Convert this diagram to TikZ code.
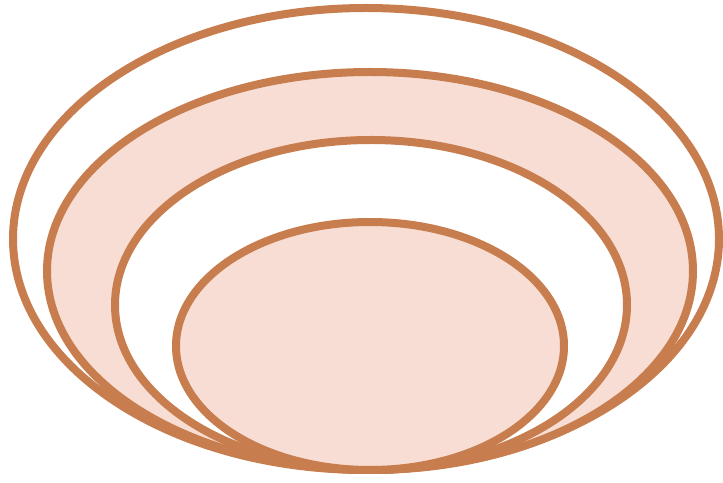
\documentclass[tikz,border=0pt]{standalone}
\usepackage{tikz}

\definecolor{ringline}{HTML}{C87D4E}
\definecolor{ringfill}{HTML}{F7DDD3}

\begin{document}
\begin{tikzpicture}[
    x=1pt, y=1pt,
    ring/.style={draw=ringline, line width=8pt},
    filled/.style={ring, fill=ringfill},
    hollow/.style={ring, fill=white}
]
\useasboundingbox (0,0) rectangle (723,482);

% Rings, outermost first
\draw[hollow] (366,243) ellipse [x radius=353, y radius=231];
\draw[filled] (370,211) ellipse [x radius=323, y radius=199];
\draw[hollow] (371,177) ellipse [x radius=256, y radius=165];
\draw[filled] (370,136) ellipse [x radius=194, y radius=124];

\end{tikzpicture}
\end{document}
